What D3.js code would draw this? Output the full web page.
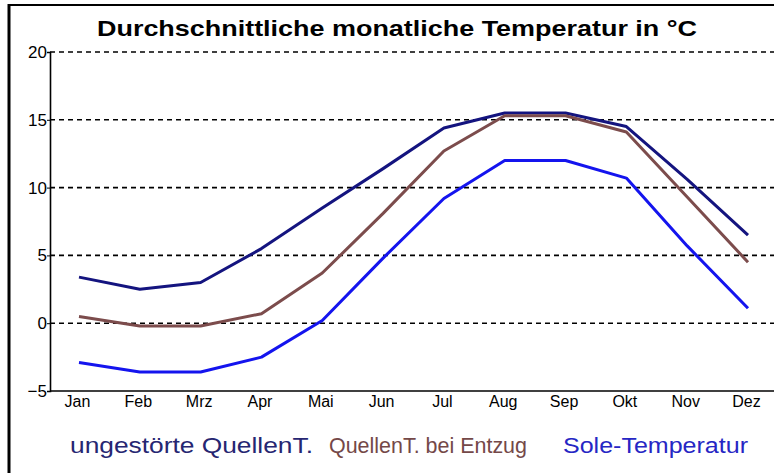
<!DOCTYPE html>
<html>
<head>
<meta charset="utf-8">
<script src="https://cdn.jsdelivr.net/npm/d3@7"></script>
<style>
  html, body { margin: 0; padding: 0; background: #fff; }
  svg { display: block; }
  text { font-family: "Liberation Sans", Arial, sans-serif; }
</style>
</head>
<body>
<script>
const months = ["Jan","Feb","Mrz","Apr","Mai","Jun","Jul","Aug","Sep","Okt","Nov","Dez"];
const ungestoert = [3.4, 2.5, 3.0, 5.5, 8.5, 11.4, 14.4, 15.5, 15.5, 14.5, 10.6, 6.5];
const entzug = [0.5, -0.2, -0.2, 0.7, 3.7, 8.1, 12.7, 15.3, 15.3, 14.1, 9.3, 4.5];
const sole = [-2.9, -3.6, -3.6, -2.5, 0.2, 4.8, 9.2, 12.0, 12.0, 10.7, 5.7, 1.1];
const yTicks = [-5, 0, 5, 10, 15, 20];
const gridTicks = [0, 5, 10, 15, 20];
const seriesNames = ["ungestörte QuellenT.", "QuellenT. bei Entzug", "Sole-Temperatur"];
const title = "Durchschnittliche monatliche Temperatur in °C";

const W = 774, H = 473;
const lineColors = ["#14147f", "#7c4c4c", "#1414ee"];
const textColors = ["#262672", "#744848", "#2626c4"];

const svg = d3.select("body").append("svg").attr("width", W).attr("height", H);

const x = d3.scalePoint().domain(months).range([79, 748]);
const y = d3.scaleLinear().domain([-5, 20]).range([391, 52]);

// frame (top and left border)
svg.append("line").attr("x1", 9).attr("x2", W).attr("y1", 5).attr("y2", 5)
  .attr("stroke", "#000").attr("stroke-width", 2);
svg.append("line").attr("x1", 9).attr("x2", 9).attr("y1", 4).attr("y2", H)
  .attr("stroke", "#000").attr("stroke-width", 3);

// title
svg.append("text").attr("x", 97).attr("y", 36)
  .attr("font-weight", "bold").attr("font-size", 22).attr("fill", "#000")
  .attr("textLength", 600).attr("lengthAdjust", "spacingAndGlyphs")
  .text(title);

// grid
svg.append("g").selectAll("line").data(gridTicks).join("line")
  .attr("x1", 50).attr("x2", W)
  .attr("y1", d => y(d)).attr("y2", d => y(d))
  .attr("stroke", "#000").attr("stroke-width", 1.6)
  .attr("stroke-dasharray", "5,4");

// y axis
const yAxis = svg.append("g").attr("transform", "translate(50,0)")
  .call(d3.axisLeft(y).tickValues(yTicks).tickSize(3).tickFormat(d3.format("d")));
yAxis.select(".domain").attr("stroke", "#000").attr("stroke-width", 1.6);
yAxis.selectAll("text").attr("font-size", 17).attr("fill", "#000").attr("x", -3)
  .attr("font-family", "Liberation Sans, Arial, sans-serif");

// x axis
const xAxis = svg.append("g").attr("transform", `translate(0,${y(-5)})`)
  .call(d3.axisBottom(x).tickSize(0).tickPadding(5));
xAxis.select(".domain").attr("d", `M50,0H${W}`).attr("stroke", "#000").attr("stroke-width", 1.6);
xAxis.selectAll("text").attr("font-size", 16).attr("fill", "#000").attr("dx", -2)
  .attr("font-family", "Liberation Sans, Arial, sans-serif");

// lines
const line = d3.line().x((d, i) => x(months[i])).y(d => y(d));
[ungestoert, entzug, sole].forEach((s, k) => {
  svg.append("path").datum(s).attr("d", line)
    .attr("fill", "none").attr("stroke", lineColors[k]).attr("stroke-width", 3)
    .attr("stroke-linejoin", "round");
});

// legend
const legX = [70, 329, 563];
const legW = [243, 198, 185];
seriesNames.forEach((n, k) => {
  svg.append("text").attr("x", legX[k]).attr("y", 453)
    .attr("font-size", 22).attr("fill", textColors[k])
    .attr("textLength", legW[k]).attr("lengthAdjust", "spacingAndGlyphs")
    .text(n);
});
</script>
</body>
</html>
